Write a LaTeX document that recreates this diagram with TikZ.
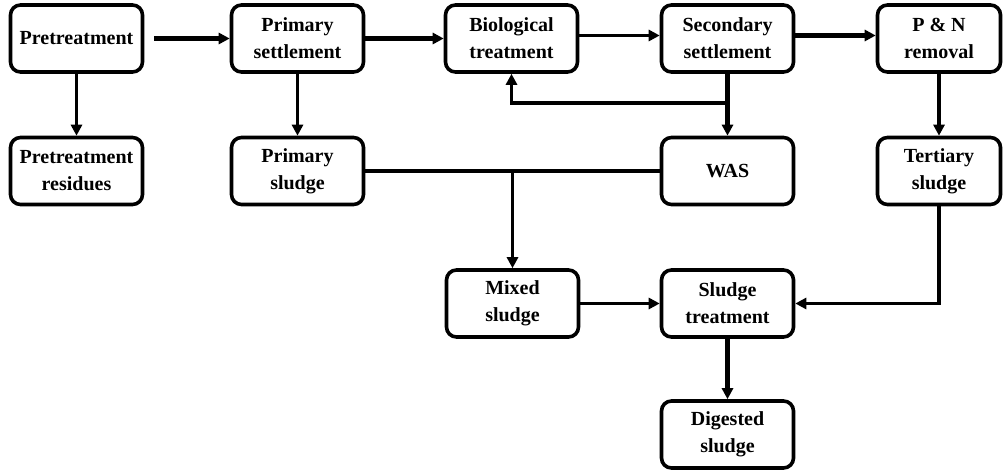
\documentclass[tikz,border=0pt]{standalone}
\usepackage{fontspec}
\setmainfont{Liberation Serif}
\usetikzlibrary{arrows.meta, positioning, calc}
\tikzset{
    % Box style - rounded corners
    stage/.style={
        rectangle,
        rounded corners=5pt,
        draw=black,
        fill=white,
        line width=1.8pt,
        minimum width=66pt,
        minimum height=33.5pt,
        inner sep=0pt,
        align=center,
        font=\fontsize{10}{13.5}\selectfont\bfseries
    },
    % Arrow styles
    arrow/.style={
        -{Triangle[length=5.5pt,width=5.5pt]},
        line width=1.8pt,
        draw=black
    },
    thickarrow/.style={
        arrow,
        line width=2.2pt
    },
    link/.style={
        line width=1.8pt,
        draw=black
    }
}
\begin{document}
\begin{tikzpicture}[x=0.5pt, y=-0.5pt]
    \useasboundingbox (0,0) rectangle (1004,470);

    % top row
    \node[stage] (pretreat) at (76.5,38.5) {Pretreatment};
    \node[stage] (primset) at (297.5,38.5) {Primary\\settlement};
    \node[stage] (biotreat) at (511.5,38.5) {Biological\\treatment};
    \node[stage] (secset) at (727.5,38.5) {Secondary\\settlement};
    \node[stage, minimum width=61.5pt] (pnrem) at (939,38.5) {P \& N\\removal};

    % second row
    \node[stage] (pretres) at (76.5,171) {Pretreatment\\residues};
    \node[stage] (primsludge) at (297.5,171) {Primary\\sludge};
    \node[stage] (was) at (727.5,171) {WAS};
    \node[stage, minimum width=61.5pt] (tertsludge) at (939,171) {Tertiary\\sludge};

    % sludge line
    \node[stage] (mixsludge) at (512.5,303.5) {Mixed\\sludge};
    \node[stage] (sludgetreat) at (727.5,303.5) {Sludge\\treatment};
    \node[stage] (digsludge) at (727.5,434.5) {Digested\\sludge};

    \draw[thickarrow, shorten <=5pt] (pretreat.east) -- (primset.west);
    \draw[thickarrow] (primset.east) -- (biotreat.west);
    \draw[arrow] ($(biotreat.east)+(0,-3)$) -- ($(secset.west)+(0,-3)$);
    \draw[thickarrow] ($(secset.east)+(0,-3)$) -- ($(pnrem.west)+(0,-3)$);

    \draw[arrow] (pretreat.south) -- (pretres.north);
    \draw[arrow] (primset.south) -- (primsludge.north);
    \draw[thickarrow] (secset.south) -- (was.north);
    \draw[arrow] ($(secset.south)!0.47!(was.north)$) -| (biotreat.south);
    \draw[thickarrow] (pnrem.south) -- (tertsludge.north);

    \draw[link] (primsludge.east) -- (was.west);
    \draw[arrow] (primsludge.east -| mixsludge.north) -- (mixsludge.north);
    \draw[arrow] (tertsludge.south) |- (sludgetreat.east);
    \draw[arrow] (mixsludge.east) -- (sludgetreat.west);
    \draw[thickarrow] (sludgetreat.south) -- (digsludge.north);
\end{tikzpicture}
\end{document}
